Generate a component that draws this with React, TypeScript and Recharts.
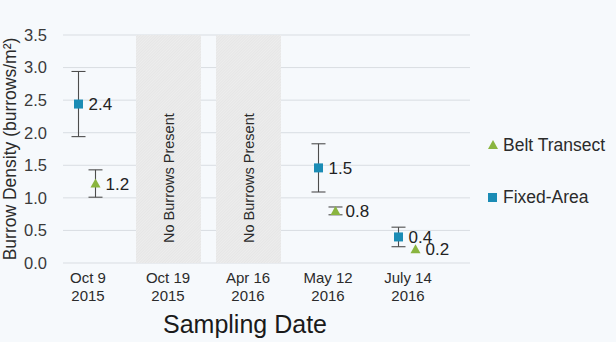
import {
  ComposedChart,
  Line,
  Bar,
  XAxis,
  YAxis,
  CartesianGrid,
  ErrorBar,
  LabelList,
  Label,
} from "recharts";

const BLUE = "#1b8cb5"; // fixed-area squares
const GREEN = "#8ab53f"; // belt transect triangles
const GRID = "#d9dde2";
const TEXT = "#2b2b2b";
const FONT = "'Liberation Sans', Arial, sans-serif";

const CATEGORIES = ["Oct 9 2015", "Oct 19 2015", "Apr 16 2016", "May 12 2016", "July 14 2016"];
const FIXED_AREA = [2.44, null, null, 1.46, 0.4];
const FIXED_AREA_ERR = [0.5, null, null, 0.37, 0.15];
const BELT_TRANSECT = [1.22, null, null, 0.8, 0.21];
const BELT_TRANSECT_ERR = [0.21, null, null, 0.06, null];
const NO_BURROWS = [null, 3.5, 3.5, null, null];
const Y_TICKS = [0, 0.5, 1, 1.5, 2, 2.5, 3, 3.5];
const SERIES = ["Belt Transect", "Fixed-Area"];

const data = CATEGORIES.map((date, i) => ({
  date,
  fixed: FIXED_AREA[i],
  fixedErr: FIXED_AREA_ERR[i],
  belt: BELT_TRANSECT[i],
  beltErr: BELT_TRANSECT_ERR[i],
  none: NO_BURROWS[i],
}));

function SquareDot(props: any) {
  const { cx, cy, value } = props;
  if (cx == null || cy == null || value == null) return <g />;
  return <rect x={cx - 4.5} y={cy - 4.5} width={9} height={9} fill={BLUE} />;
}

function TriangleDot(props: any) {
  const { cx, cy, value } = props;
  if (cx == null || cy == null || value == null) return <g />;
  return <path d={`M${cx},${cy - 5} L${cx + 5},${cy + 4} L${cx - 5},${cy + 4} Z`} fill={GREEN} />;
}

// two-line date tick, baseline just under the plot
function DateTick(props: any) {
  const { x, payload } = props;
  const s = String(payload.value);
  const cut = s.lastIndexOf(" ");
  return (
    <text x={x} y={283} textAnchor="middle" fontSize={15} fill={TEXT} fontFamily={FONT}>
      <tspan x={x} dy={0}>{s.slice(0, cut)}</tspan>
      <tspan x={x} dy={18}>{s.slice(cut + 1)}</tspan>
    </text>
  );
}

function NoDataLabel(props: any) {
  const { x, y, width, height, value } = props;
  if (value == null) return null;
  const tx = x + width / 2 + 5;
  const ty = y + height - 20;
  return (
    <text
      transform={`translate(${tx},${ty}) rotate(-90)`}
      textAnchor="start"
      fontSize={14.5}
      fill={TEXT}
      fontFamily={FONT}
    >
      No Burrows Present
    </text>
  );
}

const fmt = (v: any) => (v == null ? "" : Number(v).toFixed(1));

export default function App() {
  return (
    <div style={{ position: "relative", width: 616, height: 342, background: "#f6f9fc", fontFamily: FONT }}>
      <style>{`body{margin:0}`}</style>
      <ComposedChart width={616} height={342} data={data} margin={{ top: 35, right: 146, left: 0, bottom: 0 }}>
        <defs>
          <pattern id="hatch" width="2" height="2" patternUnits="userSpaceOnUse" patternTransform="rotate(45)">
            <rect width="2" height="2" fill="#ededed" />
            <line x1="0" y1="0" x2="0" y2="2" stroke="#dcdcdc" strokeWidth="0.8" />
          </pattern>
        </defs>
        <CartesianGrid xAxisId="main" vertical={false} stroke={GRID} />
        <XAxis
          xAxisId="main"
          dataKey="date"
          interval={0}
          padding={{ left: -15, right: 22 }}
          height={79}
          axisLine={false}
          tickLine={false}
          tickSize={0}
          tickMargin={0}
          tick={<DateTick />}
        >
          <Label
            content={() => (
              <text x={245} y={333} textAnchor="middle" fontSize={25} fill="#1a1a1a" fontFamily={FONT}>
                Sampling Date
              </text>
            )}
          />
        </XAxis>
        <XAxis xAxisId="fa" dataKey="date" hide padding={{ left: -24.5, right: 31.5 }} />
        <XAxis xAxisId="bt" dataKey="date" hide padding={{ left: -7.5, right: 14.5 }} />
        <YAxis
          width={63}
          domain={[0, 3.5]}
          ticks={Y_TICKS}
          tickFormatter={(v) => Number(v).toFixed(1)}
          axisLine={false}
          tickLine={false}
          tickSize={0}
          tickMargin={16}
          tick={{ fontSize: 16.5, fill: "#3a3a3a", fontFamily: FONT }}
        >
          <Label
            content={() => (
              <text
                transform="translate(16,149) rotate(-90)"
                textAnchor="middle"
                fontSize={17.5}
                fill={TEXT}
                fontFamily={FONT}
              >
                Burrow Density (burrows/m²)
              </text>
            )}
          />
        </YAxis>
        <Bar xAxisId="main" dataKey="none" barSize={65} fill="url(#hatch)" isAnimationActive={false}>
          <LabelList dataKey="none" content={<NoDataLabel />} />
        </Bar>
        <Line
          xAxisId="fa"
          dataKey="fixed"
          stroke="none"
          dot={<SquareDot />}
          activeDot={false}
          isAnimationActive={false}
        >
          <ErrorBar dataKey="fixedErr" width={7} stroke="#4d4d4d" strokeWidth={1.1} direction="y" />
          <LabelList
            dataKey="fixed"
            position="right"
            offset={10}
            formatter={fmt}
            style={{ fontSize: 17, fill: "#222", fontFamily: FONT }}
          />
        </Line>
        <Line
          xAxisId="bt"
          dataKey="belt"
          stroke="none"
          dot={<TriangleDot />}
          activeDot={false}
          isAnimationActive={false}
        >
          <ErrorBar dataKey="beltErr" width={7} stroke="#4d4d4d" strokeWidth={1.1} direction="y" />
          <LabelList
            dataKey="belt"
            position="right"
            offset={10}
            formatter={fmt}
            style={{ fontSize: 17, fill: "#222", fontFamily: FONT }}
          />
        </Line>
      </ComposedChart>
      <svg width={616} height={342} style={{ position: "absolute", left: 0, top: 0, pointerEvents: "none" }}>
        <path d="M493,140 L498,149 L488,149 Z" fill={GREEN} />
        <text x={503} y={151} fontSize={17.5} fill={TEXT} fontFamily={FONT}>
          {SERIES[0]}
        </text>
        <rect x={488} y={193} width={9} height={9} fill={BLUE} />
        <text x={503} y={203} fontSize={17.5} fill={TEXT} fontFamily={FONT}>
          {SERIES[1]}
        </text>
      </svg>
    </div>
  );
}
